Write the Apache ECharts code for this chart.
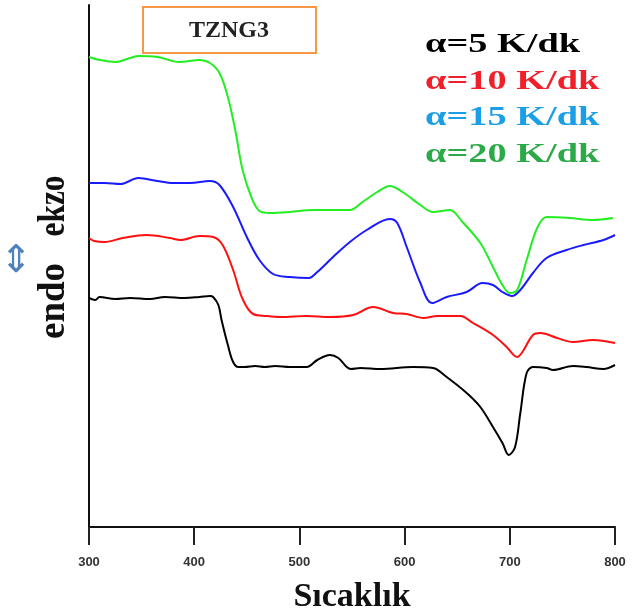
<!DOCTYPE html>
<html>
<head>
<meta charset="utf-8">
<script src="https://cdn.jsdelivr.net/npm/echarts@6/dist/echarts.min.js"></script>
<style>
  html, body { margin: 0; padding: 0; background: #fff; }
  #chart { width: 638px; height: 613px; }
</style>
</head>
<body>
<div id="chart"></div>
<script>
// [temperature, signal] pairs
const a5 = [[300,229],[306,227],[310,230],[325,228],[339,229],[358,228],[372,230],[391,229],[405,230],[415,231],[418,230],[423,222],[426,207],[432,182],[437,165],[442,160],[448,160],[458,161],[467,160],[477,161],[491,160],[507,160],[517,167],[529,172],[537,169],[545,160],[549,158],[558,159],[577,158],[608,160],[627,159],[640,150],[659,134],[672,120],[684,100],[693,84],[699,72],[705,80],[710,114],[716,154],[722,160],[735,159],[741,157],[760,161],[773,160],[789,158],[800,162]]
const a10 = [[300,289],[305,286],[315,285],[332,289],[355,292],[377,289],[387,287],[405,291],[418,290],[427,282],[437,257],[446,228],[456,213],[469,211],[482,210],[507,211],[529,210],[551,212],[570,220],[589,214],[602,213],[618,209],[631,211],[653,211],[665,204],[684,192],[697,180],[707,170],[712,175],[722,192],[729,194],[745,189],[760,185],[779,187],[800,184]]
const a15 = [[300,344],[315,344],[330,343],[347,349],[365,346],[380,344],[396,344],[415,346],[424,342],[437,320],[450,290],[462,267],[475,253],[491,250],[509,249],[517,255],[532,270],[548,285],[564,297],[586,308],[593,304],[602,280],[615,244],[626,224],[640,230],[659,235],[674,244],[684,242],[693,235],[702,231],[710,237],[722,254],[735,269],[754,277],[770,282],[789,287],[800,292]]
const a20 = [[300,470],[310,467],[325,465],[339,469],[347,471],[365,470],[386,465],[405,467],[415,464],[424,454],[432,430],[439,397],[446,357],[455,328],[462,316],[472,314],[491,315],[513,317],[548,317],[560,325],[574,335],[586,341],[598,335],[615,322],[627,315],[643,317],[655,305],[672,284],[684,260],[693,242],[700,234],[707,237],[716,267],[726,299],[735,310],[757,309],[779,307],[798,309]]

const names = ['α=5 K/dk', 'α=10 K/dk', 'α=15 K/dk', 'α=20 K/dk']
const lineColors = ['#000000', '#ff1010', '#1a1aff', '#22ee22']
const labelColors = ['#000000', '#f0202a', '#1a9fe6', '#2caa48']

const serif = '"Liberation Serif", "Times New Roman", serif'

const chart = echarts.init(document.getElementById('chart'))

const legendTexts = names.map((n, i) => ({
  type: 'text',
  x: 425,
  y: 45 + i * 36.7,
  scaleX: 1.42,
  style: {
    text: n,
    fill: labelColors[i],
    font: 'bold 27px ' + serif,
    textAlign: 'left',
    textVerticalAlign: 'middle'
  }
}))

chart.setOption({
  animation: false,
  grid: { left: 89, right: 23, top: 5, bottom: 86, outerBoundsMode: 'none' },
  xAxis: {
    type: 'value',
    min: 300,
    max: 800,
    interval: 100,
    name: 'Sıcaklık',
    nameLocation: 'middle',
    nameGap: 53,
    nameTextStyle: { fontFamily: serif, fontWeight: 'bold', fontSize: 34, color: '#111' },
    axisLine: { lineStyle: { color: '#111', width: 2 } },
    axisTick: { length: 18, lineStyle: { color: '#222', width: 2 } },
    axisLabel: { margin: 29, fontFamily: 'Arial, "Liberation Sans"', fontWeight: 'bold', fontSize: 13, color: '#333' },
    splitLine: { show: false }
  },
  yAxis: {
    type: 'value',
    min: 0,
    max: 522,
    axisLine: { show: true, lineStyle: { color: '#111', width: 2 } },
    axisTick: { show: false },
    axisLabel: { show: false },
    splitLine: { show: false }
  },
  series: [a5, a10, a15, a20].map((d, i) => ({
    name: names[i],
    type: 'line',
    data: d,
    smooth: 0.35,
    showSymbol: false,
    lineStyle: { color: lineColors[i], width: 2 },
    itemStyle: { color: lineColors[i] }
  })),
  graphic: [
    {
      type: 'rect',
      shape: { x: 143, y: 7, width: 173, height: 46 },
      style: { fill: '#fff', stroke: '#f79646', lineWidth: 2 }
    },
    {
      type: 'text',
      x: 229,
      y: 31,
      style: { text: 'TZNG3', fill: '#222', font: 'bold 24px ' + serif, textAlign: 'center', textVerticalAlign: 'middle' }
    },
    ...legendTexts,
    {
      type: 'text',
      x: 54,
      y: 301,
      rotation: Math.PI / 2,
      style: { text: 'endo', fill: '#111', font: 'bold 37px ' + serif, textAlign: 'center', textVerticalAlign: 'middle' }
    },
    {
      type: 'text',
      x: 54,
      y: 206,
      rotation: Math.PI / 2,
      scaleX: 0.85,
      style: { text: 'ekzo', fill: '#111', font: 'bold 37px ' + serif, textAlign: 'center', textVerticalAlign: 'middle' }
    },
    {
      type: 'text',
      x: 18,
      y: 258,
      rotation: Math.PI / 2,
      style: { text: '⇔', fill: '#4f81bd', font: '38px "DejaVu Sans"', textAlign: 'center', textVerticalAlign: 'middle' }
    }
  ]
})
</script>
</body>
</html>
